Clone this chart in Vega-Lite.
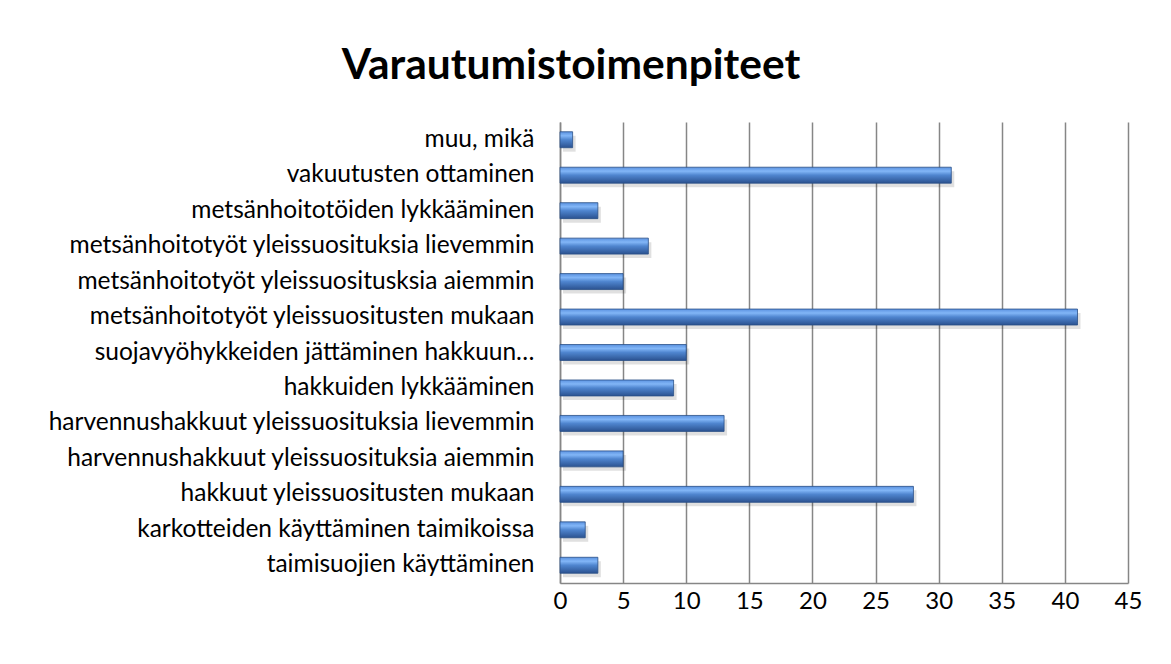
{
  "$schema": "https://vega.github.io/schema/vega-lite/v6.json",
  "width": 568,
  "height": 461,
  "autosize": {"type": "none"},
  "padding": {"left": 560, "top": 122, "right": 43, "bottom": 81},
  "background": "white",
  "title": {
    "text": "Varautumistoimenpiteet",
    "font": "Lato",
    "fontSize": 42.5,
    "fontWeight": "bold",
    "color": "#000000",
    "anchor": "middle",
    "dx": -273,
    "offset": 35
  },
  "data": {
    "values": [
      {"category": "muu, mikä", "value": 1},
      {"category": "vakuutusten ottaminen", "value": 31},
      {"category": "metsänhoitotöiden lykkääminen", "value": 3},
      {"category": "metsänhoitotyöt yleissuosituksia lievemmin", "value": 7},
      {"category": "metsänhoitotyöt yleissuositusksia aiemmin", "value": 5},
      {"category": "metsänhoitotyöt yleissuositusten mukaan", "value": 41},
      {"category": "suojavyöhykkeiden jättäminen hakkuun…", "value": 10},
      {"category": "hakkuiden lykkääminen", "value": 9},
      {"category": "harvennushakkuut yleissuosituksia lievemmin", "value": 13},
      {"category": "harvennushakkuut yleissuosituksia aiemmin", "value": 5},
      {"category": "hakkuut yleissuositusten mukaan", "value": 28},
      {"category": "karkotteiden käyttäminen taimikoissa", "value": 2},
      {"category": "taimisuojien käyttäminen", "value": 3}
    ]
  },
  "encoding": {
    "y": {
      "field": "category",
      "type": "nominal",
      "sort": null,
      "title": null,
      "scale": {"paddingInner": 0.55, "paddingOuter": 0.275},
      "axis": {
        "ticks": false,
        "domain": true,
        "domainColor": "#868686",
        "domainWidth": 1.5,
        "labelFont": "Lato",
        "labelFontSize": 24.5,
        "labelColor": "#000000",
        "labelPadding": 26,
        "labelLimit": 700,
        "grid": false
      }
    },
    "x": {
      "field": "value",
      "type": "quantitative",
      "title": null,
      "scale": {"domain": [0, 45], "nice": false},
      "axis": {
        "values": [0, 5, 10, 15, 20, 25, 30, 35, 40, 45],
        "ticks": false,
        "domain": true,
        "domainColor": "#868686",
        "domainWidth": 1.5,
        "grid": true,
        "gridColor": "#868686",
        "gridWidth": 1.5,
        "gridOpacity": 1,
        "labelFont": "Lato",
        "labelFontSize": 24,
        "labelColor": "#000000",
        "labelPadding": 6,
        "labelFlush": false
      }
    }
  },
  "layer": [
    {
      "mark": {
        "type": "bar",
        "color": "#000000",
        "opacity": 0.12,
        "xOffset": 3,
        "yOffset": 4
      }
    },
    {
      "mark": {
        "type": "bar",
        "color": {
          "gradient": "linear",
          "x1": 0, "y1": 0, "x2": 0, "y2": 1,
          "stops": [
            {"offset": 0, "color": "#5b92e0"},
            {"offset": 0.25, "color": "#82b6f7"},
            {"offset": 0.5, "color": "#4f85cf"},
            {"offset": 1, "color": "#2b5290"}
          ]
        },
        "stroke": "#2a4f86",
        "strokeWidth": 0.8
      }
    }
  ],
  "config": {"view": {"stroke": null}}
}
